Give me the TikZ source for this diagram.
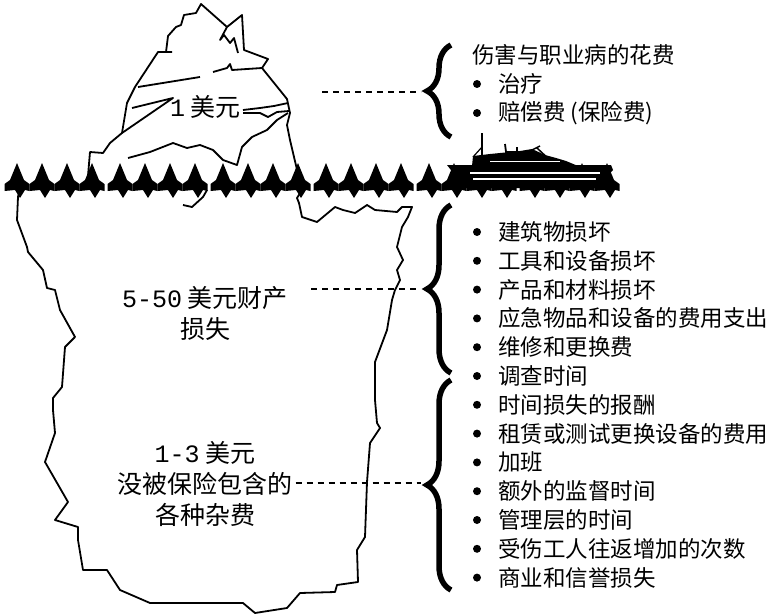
\documentclass[tikz,border=0pt]{standalone}
\usepackage{fontspec}
\setmainfont{Liberation Serif}
\setmonofont{Liberation Mono}
\newfontfamily\cjk{Noto Sans CJK SC}
\usetikzlibrary{decorations.pathreplacing}

\begin{document}
\begin{tikzpicture}[x=1pt,y=-1pt,
    berg/.style={line width=1.8pt, line join=round},
    leader/.style={line width=1.6pt, dash pattern=on 6pt off 5pt},
    curly/.style={decorate, decoration={brace, amplitude=24pt}, line width=5.5pt},
    item/.style={anchor=west, inner sep=0pt, font=\cjk\fontsize{22.5}{24}\selectfont},
    lbl/.style={align=center, inner sep=0pt, font=\cjk\fontsize{25}{31}\selectfont}]
  \useasboundingbox (0,0) rectangle (783,615);

  % Tip above the water
  \draw[berg] (88,176) -- (90,152) -- (103,153) -- (110,143) -- (122,133) -- (127,103) -- (135,87) -- (158,52) -- (172,52);
  \draw[berg] (166,52) -- (168,36) -- (176,27) -- (181,25) -- (184,15) -- (196,13) -- (201,4) -- (227,27) -- (242,15) -- (244,50) -- (268,59) -- (262,68) -- (287,99) -- (290,113) -- (287,125) -- (290,140) -- (294,157) -- (299,178);
  \draw[berg] (227,27) -- (220,40) -- (224,35) -- (230,43) -- (234,38) -- (238,53);
  \draw[berg] (213,72) -- (227,68) -- (230,64) -- (232,70) -- (262,68);
  \draw[berg] (138,87) -- (200,77);
  \draw[berg] (132,108) -- (173,98) -- (122,133);
  \draw[berg] (243,110) -- (260,108) -- (274,106) -- (288,103);
  \draw[berg] (243,113) -- (260,113) -- (268,117) -- (277,112) -- (289,111);
  \draw[berg] (288,113) -- (277,120) -- (267,130) -- (252,137) -- (242,147) -- (237,165) -- (223,160) -- (213,150) -- (200,145) -- (187,148) -- (173,143) -- (150,152) -- (128,158);

  % Part under the water
  \draw[berg] (20,188) -- (18,197) -- (17,220) -- (27,247) -- (28,252) -- (43,270) -- (47,288) -- (55,290) -- (60,310) -- (75,337) -- (65,347) -- (62,387) -- (53,398) -- (53,410) -- (55,433) -- (45,462) -- (68,502) -- (55,520) -- (78,527) -- (78,540) -- (83,570) -- (107,570) -- (120,590) -- (150,603) -- (243,603) -- (255,613) -- (287,608) -- (300,593) -- (335,592) -- (337,585) -- (358,582) -- (357,550) -- (365,537) -- (367,482) -- (370,443) -- (380,428) -- (377,423) -- (375,400) -- (375,362) -- (387,330) -- (392,300) -- (395,290) -- (400,280) -- (397,270) -- (403,260) -- (397,247) -- (402,227) -- (408,217) -- (412,207) -- (402,207) -- (397,212) -- (375,210) -- (367,205) -- (355,213) -- (343,210) -- (335,207) -- (317,222) -- (302,217) -- (299,203) -- (297,198) -- (302,190);
  \draw[berg] (183,205) -- (192,207) -- (203,197) -- (207,190);

  % Waterline
  \foreach \g in {0,...,5} {
    \foreach \t in {0,...,3} {
      \pgfmathsetmacro\xx{17+103*\g+25*\t}
      \fill (\xx-12.5,184) -- (\xx-7,180) -- (\xx,163) -- (\xx+7,180) -- (\xx+12.5,184)
        -- (\xx+12.5,191) -- (\xx+8,190) -- (\xx+3,198) -- (\xx-2,190) -- (\xx-12.5,191) -- cycle;
    }
  }

  % Ship
  \fill (447,165) -- (611,165) -- (613,170) -- (595,188) -- (465,188) -- cycle;
  \draw[white, line width=1.2pt] (470,173) -- (600,173) (473,179) -- (596,179);
  \fill (472,166) -- (473,156) -- (490,154) -- (520,151) -- (532,149) -- (545,155) -- (556,158) -- (566,161) -- (578,166) -- cycle;
  \draw[line width=1.8pt] (482,133) -- (482,165);
  \draw[line width=1.2pt] (473,157) -- (482,147);
  \draw[line width=1.8pt] (505,144) -- (506,152) -- (517,152) -- (517,147);
  \draw[line width=1.5pt] (532,150) -- (540,146) (537,148) -- (552,162);
  \draw[white, line width=1pt] (490,161) -- (560,161);

  % Labels on the iceberg
  \node[lbl, anchor=west] (tipCost) at (170,107) {{\ttfamily 1} 美元};
  \node[lbl] (propCost) at (205,313) {{\ttfamily 5-50} 美元财产\\损失};
  \node[lbl] (miscCost) at (205,484) {{\ttfamily 1-3} 美元\\没被保险包含的\\各种杂费};

  % Braces
  \draw[curly] (451,137) -- (451,45);
  \draw[curly] (451,373) -- (451,205);
  \draw[curly] (451,590) -- (451,380);
  \coordinate (tipTop) at (421,92);
  \coordinate (tipMid) at (421,289);
  \coordinate (tipLow) at (421,483);

  % Leaders
  \coordinate (leadTop) at (322,92);
  \draw[leader] (leadTop) -- (tipTop);
  \draw[leader] (propCost.east |- tipMid) ++(23,0) coordinate (leadMid) -- (tipMid);
  \draw[leader] (miscCost.east |- tipLow) ++(3,0) coordinate (leadLow) -- (tipLow);

  % Lists
  \node[item] (injury) at (472,55) {伤害与职业病的花费};
  \node[item] (treat) at (498,84) {治疗};
  \node[item] (comp) at (498,113) {赔偿费 (保险费)};
  \fill ([xshift=-21pt]treat.west) circle (4pt);
  \fill ([xshift=-21pt]comp.west) circle (4pt);
  \foreach \txt [count=\i] in {建筑物损坏, 工具和设备损坏, 产品和材料损坏,
      应急物品和设备的费用支出, 维修和更换费, 调查时间, 时间损失的报酬,
      租赁或测试更换设备的费用, 加班, 额外的监督时间, 管理层的时间,
      受伤工人往返增加的次数, 商业和信誉损失} {
    \node[item] (loss\i) at (498,{232+28.8*(\i-1)}) {\txt};
    \fill ([xshift=-21pt]loss\i.west) circle (4pt);
  }
\end{tikzpicture}
\end{document}
